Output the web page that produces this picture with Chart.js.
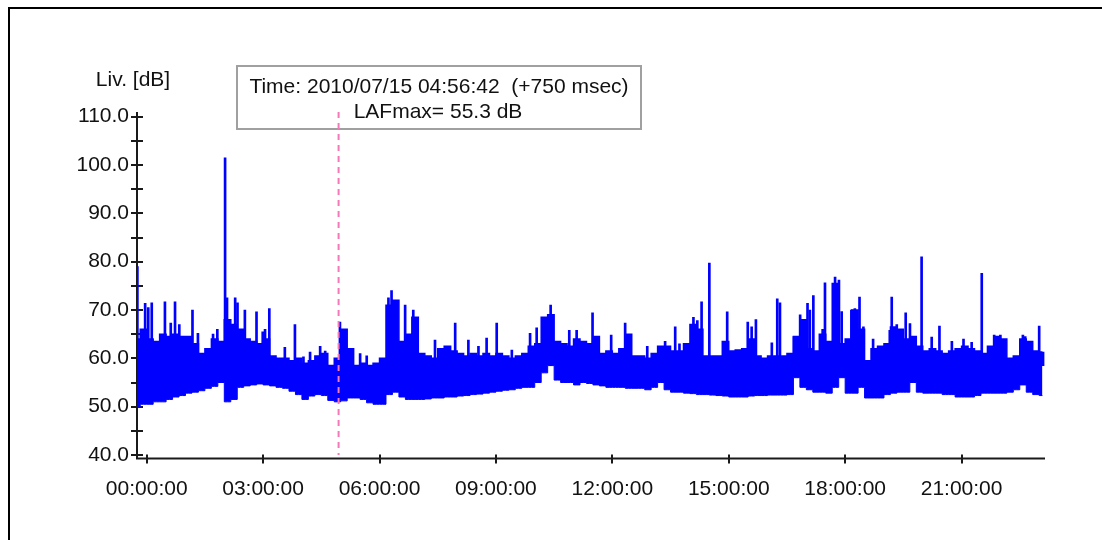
<!DOCTYPE html>
<html>
<head>
<meta charset="utf-8">
<script src="https://cdn.jsdelivr.net/npm/chart.js@4.4.0/dist/chart.umd.min.js"></script>
<style>
  html, body { margin: 0; padding: 0; background: #fff; }
  #wrap { width: 1102px; height: 540px; position: relative; }
</style>
</head>
<body>
<div id="wrap"><canvas id="noise"></canvas></div>
<script>
// samples every 10 minutes, first one at 23:45 the day before
const startHour = -0.25;
const stepHour = 1 / 6;

// lower edge of the trace (dB)
const lowLevel = [
  50, 50.5, 50.5, 51, 51, 51.5, 52, 52.3, 52.8, 53,
  53.3, 53.8, 54.2, 55, 51, 51.5, 54, 54.3, 54.5, 54.7,
  54.5, 54.3, 54, 53.8, 53.2, 52.5, 51.5, 52.2, 52.5, 52.3,
  51.3, 51, 51.2, 51.8, 51.8, 51.5, 50.8, 50.5, 50.5, 52.5,
  53, 52, 51.5, 51.5, 51.5, 51.6, 51.8, 51.8, 52, 52,
  52.2, 52.3, 52.5, 52.6, 52.8, 53, 53.2, 53.4, 53.5, 53.8,
  54, 54, 55, 57, 58.5, 55.5, 55, 55, 54.5, 55,
  54.8, 54.5, 54.3, 54, 54, 54, 53.8, 53.8, 53.8, 53.5,
  54, 55, 53.5, 53, 53, 52.8, 52.7, 52.5, 52.5, 52.4,
  52.3, 52.2, 52, 52, 52, 52.2, 52.3, 52.3, 52.4, 52.4,
  52.4, 52.5, 56, 54, 53.5, 53, 53, 52.8, 54, 56,
  52.8, 52.8, 54, 51.8, 51.8, 51.8, 52.5, 52.8, 53, 53,
  55, 53, 52.8, 52.8, 52.8, 52.5, 52.5, 52, 52, 52,
  52.3, 52.8, 52.8, 52.8, 52.8, 53, 53.5, 54.5, 53, 52.5, 52.3
];

// upper edge of the dense part (dB)
const highLevel = [
  64, 66, 64, 63.5, 65, 64.5, 65, 64.5, 64.5, 63,
  61, 62, 64, 63.5, 68, 67, 66, 64, 63.5, 63,
  64, 60.5, 60, 60, 59.5, 60, 59, 59.5, 60.5, 61,
  58.5, 60, 66, 62, 58.5, 59, 58.5, 59, 60, 71,
  72, 63.5, 65, 68.5, 61, 60.5, 60, 62, 62.5, 61.5,
  61, 60.5, 61, 60.5, 61, 60.5, 61, 60.5, 60, 60.5,
  61, 62.5, 63, 68.5, 69, 63.5, 63, 62.5, 64, 63.5,
  63, 64.5, 61, 61.5, 61, 62, 65, 60.5, 60.5, 60,
  61, 62.5, 62.5, 61.5, 61.5, 63, 67, 66, 60.5, 60.5,
  60.5, 63.5, 61.5, 61.7, 62, 64, 60.5, 60, 60.5, 60.5,
  60.5, 61, 64.5, 68, 62, 61.5, 65, 63.5, 75.5, 63,
  64, 70, 66, 59.5, 62, 62.5, 63, 66.5, 66, 64,
  64.5, 62.5, 61.5, 62, 61.5, 61, 61.5, 62, 62.5, 62,
  61.5, 61, 62.5, 64.5, 64, 60, 60.5, 64, 63.5, 61.5, 61.3
];

// single short peaks above the dense part
const peakHours = [
  -0.24, -0.04, 0.04, 0.13, 0.47, 0.62, 0.73, 0.84, 1.18, 1.32,
  1.71, 1.82, 2.02, 2.07, 2.28, 2.34, 2.53, 2.83, 2.99, 3.05,
  3.16, 3.56, 3.82, 4.04, 4.21, 4.47, 4.6, 4.98, 5.07, 5.5,
  5.67, 6.23, 6.31, 6.66, 6.87, 7.43, 7.95, 8.29, 8.55, 8.76,
  9.02, 9.41, 9.88, 10.05, 10.41, 10.89, 11.08, 11.49, 11.97, 12.33,
  12.9, 13.36, 13.62, 13.73, 14.09, 14.19, 14.3, 14.5, 14.96, 15.49,
  15.59, 15.7, 16.11, 16.25, 16.32, 16.68, 16.84, 17.03, 17.09, 17.18,
  17.42, 17.48, 17.74, 17.84, 17.91, 18.16, 18.25, 18.37, 18.47, 18.72,
  19.15, 19.2, 19.33, 19.56, 19.67, 19.97, 20.23, 20.43, 20.75, 21.05,
  21.26, 21.52, 21.84, 22.0, 22.58, 22.64, 23.0, 23.1
];
const peakLevels = [
  79, 71.4, 70.5, 71.5, 71.7, 67.3, 71.7, 67, 70, 65.2,
  65, 66, 101.5, 72.5, 72.5, 71.5, 70, 69.6, 65.5, 66,
  70.3, 62.3, 67, 60.3, 61.3, 62.5, 61.5, 67.5, 65.5, 61,
  60.5, 72.5, 74, 71, 70, 63.8, 67.3, 63.8, 62.5, 64.2,
  67.3, 61.7, 65.2, 66.3, 71, 65.8, 65.8, 69.4, 64.8, 67.3,
  62.5, 63.5, 66.5, 63, 68.5, 67.8, 71.7, 79.7, 69.6, 67.5,
  66.5, 68, 63.2, 72.3, 71.5, 64.5, 69, 71.4, 70, 73,
  66, 75.6, 76.8, 76.2, 69.7, 70, 70.3, 72.7, 66.5, 64,
  65.8, 72.7, 67, 69.4, 67.2, 81, 64.4, 66.7, 63.5, 64,
  63.3, 77.6, 64.8, 64.8, 64.8, 64.5, 66.7, 61.3
];
const peakBase = 58.5;

const hourTicks = [0, 3, 6, 9, 12, 15, 18, 21];
const levelTicks = [40, 45, 50, 55, 60, 65, 70, 75, 80, 85, 90, 95, 100, 105, 110];

const cursorHour = 4.945;   // 04:56:42
const readoutTime = 'Time: 2010/07/15 04:56:42  (+750 msec)';
const readoutValue = 'LAFmax= 55.3 dB';

const BLUE = '#0000ff';
const FONT = '"Liberation Sans", Arial, sans-serif';

const lowPts = lowLevel.map((v, i) => ({ x: startHour + i * stepHour, y: v }));
const highPts = highLevel.map((v, i) => ({ x: startHour + i * stepHour, y: v }));
const peakPts = peakHours.map((h, i) => ({ x: h, y: [peakBase, peakLevels[i]] }));

const decor = {
  id: 'decor',
  beforeDraw(chart) {
    const ctx = chart.ctx;
    ctx.save();
    ctx.fillStyle = '#fff';
    ctx.fillRect(0, 0, chart.width, chart.height);
    // window frame
    ctx.strokeStyle = '#000';
    ctx.lineWidth = 2;
    ctx.beginPath();
    ctx.moveTo(9, chart.height);
    ctx.lineTo(9, 8);
    ctx.lineTo(chart.width, 8);
    ctx.stroke();
    ctx.fillStyle = '#111';
    ctx.font = '21px ' + FONT;
    ctx.textAlign = 'center';
    ctx.textBaseline = 'middle';
    ctx.fillText('Liv. [dB]', 133, 80);
    ctx.restore();
  },
  beforeDatasetsDraw(chart) {
    const { ctx, chartArea: a, scales: { x, y } } = chart;
    ctx.save();
    // axes with crossing tick marks
    ctx.strokeStyle = '#1a1a1a';
    ctx.lineWidth = 2;
    ctx.beginPath();
    ctx.moveTo(a.left, a.top);
    ctx.lineTo(a.left, a.bottom);
    ctx.lineTo(a.right, a.bottom);
    y.ticks.forEach(t => {
      const py = Math.round(y.getPixelForValue(t.value));
      ctx.moveTo(a.left - 6, py);
      ctx.lineTo(a.left + 6, py);
    });
    x.ticks.forEach(t => {
      const px = Math.round(x.getPixelForValue(t.value));
      ctx.moveTo(px, a.bottom - 4);
      ctx.lineTo(px, a.bottom + 5);
    });
    ctx.stroke();

    // cursor readout box
    ctx.fillStyle = '#fff';
    ctx.fillRect(237, 66, 404, 63);
    ctx.strokeStyle = '#a0a0a0';
    ctx.lineWidth = 2;
    ctx.strokeRect(237, 66, 404, 63);
    ctx.fillStyle = '#111';
    ctx.font = '21px ' + FONT;
    ctx.textAlign = 'center';
    ctx.textBaseline = 'middle';
    ctx.fillText(readoutTime, 439, 87);
    ctx.fillText(readoutValue, 438, 112);
    ctx.restore();
  }
};

new Chart(document.getElementById('noise'), {
  type: 'line',
  data: {
    datasets: [
      {
        data: lowPts,
        borderColor: BLUE,
        borderWidth: 1,
        pointRadius: 0,
        stepped: 'middle',
        fill: false,
        order: 4
      },
      {
        data: highPts,
        borderColor: BLUE,
        backgroundColor: BLUE,
        borderWidth: 1.5,
        pointRadius: 0,
        stepped: 'middle',
        fill: '-1',
        order: 3
      },
      {
        type: 'bar',
        data: peakPts,
        backgroundColor: BLUE,
        borderWidth: 0,
        barThickness: 2,
        order: 2
      },
      {
        data: [{ x: cursorHour, y: 110.97 }, { x: cursorHour, y: 40 }],
        borderColor: '#f578b8',
        borderWidth: 2,
        borderDash: [6, 5],
        pointRadius: 0,
        fill: false,
        order: 1
      }
    ]
  },
  options: {
    responsive: true,
    maintainAspectRatio: false,
    animation: false,
    layout: { padding: { left: 0, top: 112, right: 57, bottom: 0 } },
    plugins: { legend: { display: false }, tooltip: { enabled: false } },
    scales: {
      x: {
        type: 'linear',
        min: -0.25,
        max: 23.15,
        offset: false,
        grid: { display: false, drawTicks: false },
        border: { display: false },
        afterBuildTicks: s => { s.ticks = hourTicks.map(v => ({ value: v })); },
        afterFit: s => { s.height = 81.5; },
        ticks: {
          autoSkip: false,
          maxRotation: 0,
          padding: 18,
          color: '#111',
          font: { family: FONT, size: 21 },
          callback: v => String(v).padStart(2, '0') + ':00:00'
        }
      },
      y: {
        min: 39.276,
        max: 110.97,
        grid: { display: false, drawTicks: false },
        border: { display: false },
        afterBuildTicks: s => { s.ticks = levelTicks.map(v => ({ value: v })); },
        afterFit: s => { s.width = 137; },
        ticks: {
          autoSkip: false,
          padding: 8,
          color: '#111',
          font: { family: FONT, size: 21 },
          callback: v => (v % 10 === 0 ? v.toFixed(1) : '')
        }
      }
    }
  },
  plugins: [decor]
});
</script>
</body>
</html>
